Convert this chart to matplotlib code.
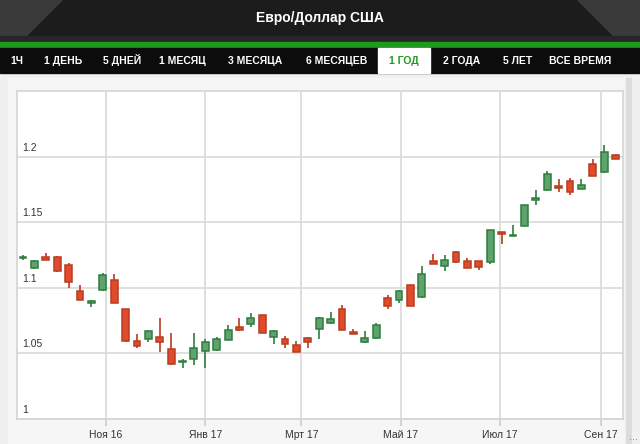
import numpy as np
import pandas as pd
import matplotlib
matplotlib.use("Agg")
import matplotlib.pyplot as plt
import matplotlib.dates as mdates
from matplotlib.patches import Rectangle, Polygon

# weekly EUR/USD candles, one year
dates = pd.date_range("2016-09-11", periods=53, freq="7D")
opens = [1.1225, 1.1150, 1.1231, 1.1234, 1.1176, 1.0972, 1.0885, 1.0985, 1.1061, 1.0837,
         1.0595, 1.0608, 1.0628, 1.0532, 1.0431, 1.0456, 1.0519, 1.0527, 1.0603, 1.0705,
         1.0725, 1.0789, 1.0628, 1.0608, 1.0565, 1.0615, 1.0687, 1.0731, 1.0840, 1.0664,
         1.0585, 1.0616, 1.0921, 1.0908, 1.1018, 1.0929, 1.1201, 1.1168, 1.1275, 1.1206,
         1.1206, 1.1193, 1.1422, 1.1395, 1.1473, 1.1666, 1.1748, 1.1773, 1.1817, 1.1756,
         1.1947, 1.1880, 1.2015]
highs = [1.1247, 1.1214, 1.1265, 1.1244, 1.1191, 1.1023, 1.0908, 1.1112, 1.1105, 1.0840,
         1.0649, 1.0679, 1.0773, 1.0654, 1.0458, 1.0659, 1.0611, 1.0628, 1.0718, 1.0773,
         1.0807, 1.0794, 1.0682, 1.0634, 1.0595, 1.0628, 1.0779, 1.0819, 1.0870, 1.0687,
         1.0672, 1.0731, 1.0947, 1.0985, 1.1025, 1.1168, 1.1257, 1.1250, 1.1280, 1.1229,
         1.1206, 1.1443, 1.1422, 1.1481, 1.1634, 1.1748, 1.1888, 1.1832, 1.1837, 1.1827,
         1.1985, 1.2092, 1.2023]
lows = [1.1214, 1.1145, 1.1212, 1.1122, 1.1002, 1.0906, 1.0857, 1.0972, 1.0882, 1.0588,
        1.0540, 1.0590, 1.0509, 1.0412, 1.0387, 1.0412, 1.0392, 1.0519, 1.0600, 1.0672,
        1.0705, 1.0656, 1.0570, 1.0540, 1.0507, 1.0540, 1.0611, 1.0723, 1.0675, 1.0645,
        1.0578, 1.0611, 1.0840, 1.0883, 1.0863, 1.0924, 1.1182, 1.1130, 1.1189, 1.1150,
        1.1132, 1.1183, 1.1336, 1.1395, 1.1473, 1.1634, 1.1740, 1.1731, 1.1705, 1.1756,
        1.1855, 1.1878, 1.1979]
closes = [1.1233, 1.1201, 1.1214, 1.1130, 1.1048, 1.0908, 1.0901, 1.1094, 1.0883, 1.0595,
          1.0557, 1.0672, 1.0585, 1.0418, 1.0439, 1.0540, 1.0585, 1.0611, 1.0679, 1.0679,
          1.0773, 1.0659, 1.0672, 1.0570, 1.0509, 1.0585, 1.0773, 1.0763, 1.0677, 1.0647,
          1.0621, 1.0718, 1.0863, 1.0977, 1.0865, 1.1107, 1.1183, 1.1214, 1.1196, 1.1150,
          1.1155, 1.1437, 1.1412, 1.1402, 1.1628, 1.1685, 1.1868, 1.1763, 1.1731, 1.1786,
          1.1855, 1.2033, 1.1979]

y_ticks = [1.0, 1.05, 1.1, 1.15, 1.2]
y_labels = ["1", "1.05", "1.1", "1.15", "1.2"]
x_ticks = pd.to_datetime(["2016-11-01", "2017-01-01", "2017-03-01", "2017-05-01",
                          "2017-07-01", "2017-09-01"])
x_labels = ["Ноя 16", "Янв 17", "Мрт 17", "Май 17", "Июл 17", "Сен 17"]
tabs = ["1Ч", "1 ДЕНЬ", "5 ДНЕЙ", "1 МЕСЯЦ", "3 МЕСЯЦА", "6 МЕСЯЦЕВ", "1 ГОД",
        "2 ГОДА", "5 ЛЕТ", "ВСЕ ВРЕМЯ"]
tab_x = [17, 63, 122, 182, 255, 337, 404, 462, 518, 580]
title = "Евро/Доллар США"

W, H = 640, 444
fig = plt.figure(figsize=(6.4, 4.44), dpi=100)

# background / header drawn in pixel coordinates
bg = fig.add_axes([0, 0, 1, 1])
bg.set_xlim(0, W)
bg.set_ylim(H, 0)
bg.axis("off")
bg.add_patch(Rectangle((0, 0), W, H, color="#f0f0f0"))
bg.add_patch(Rectangle((0, 0), W, 44, color="#1c1c1c"))
bg.add_patch(Polygon([(0, 0), (62, 0), (18, 44), (0, 44)], color="#3a3a3a"))
bg.add_patch(Polygon([(W, 0), (W - 62, 0), (W - 18, 44), (W, 44)], color="#3a3a3a"))
bg.add_patch(Rectangle((0, 36), W, 8, color="#262626"))
bg.add_patch(Rectangle((0, 42), W, 6, color="#1f9a1f"))
bg.add_patch(Rectangle((0, 48), W, 25, color="#0c0c0c"))
bg.add_patch(Rectangle((378, 48), 52, 25, color="white"))
bg.add_patch(Rectangle((8, 78), 624, H - 78, color="#f6f6f6"))
bg.add_patch(Rectangle((626, 78), 5, H - 78, color="#dcdcdc"))
bg.text(W / 2, 18, title, color="white", fontsize=10, fontweight="bold",
        ha="center", va="center", family=["Liberation Sans", "DejaVu Sans"])
for lbl, x in zip(tabs, tab_x):
    col = "#1f9a1f" if lbl == "1 ГОД" else "white"
    bg.text(x, 64, lbl, color=col, fontsize=7.5, fontweight="bold", ha="center",
            va="baseline", family=["Liberation Sans Narrow", "Liberation Sans", "DejaVu Sans"])
bg.text(634, 437, "...", color="#888888", fontsize=7, ha="center", va="center")

# main chart
ax = fig.add_axes([17 / W, (H - 419) / H, (623 - 17) / W, (419 - 91) / H])
ax.set_facecolor("white")
for s in ax.spines.values():
    s.set_color("#d4d4d4")
    s.set_linewidth(1.2)

o = np.array(opens)
c = np.array(closes)
up = c >= o
edge = np.where(up, "#2f7d3d", "#b83c20")
fill = np.where(up, "#5ea36e", "#e04b2b")
ax.vlines(dates, lows, highs, colors=edge, linewidth=1.2, zorder=3)
body_lo = np.minimum(o, c)
body_h = np.maximum(np.abs(c - o), 0.0008)
ax.bar(dates, body_h, bottom=body_lo, width=4.2, color=fill, edgecolor=edge,
       linewidth=1.1, zorder=4)

ax.set_xlim(pd.Timestamp("2016-09-07 08:00"), pd.Timestamp("2017-09-14 14:00"))
ax.set_ylim(1.0, 1.25)
ax.set_yticks(y_ticks)
ax.set_yticklabels([])
ax.tick_params(axis="y", length=0)
ax.set_xticks(x_ticks)
ax.set_xticklabels(x_labels, fontsize=7.5, color="#333333",
                   family=["Liberation Sans", "DejaVu Sans"])
ax.tick_params(axis="x", length=5, color="#cccccc", width=1.2, pad=3)
ax.grid(True, color="#d9d9d9", linewidth=1.2)
ax.set_axisbelow(True)

for v, lbl in zip(y_ticks, y_labels):
    ax.text(0.008, v + 0.003, lbl, transform=ax.get_yaxis_transform(),
            fontsize=7.5, color="#333333", ha="left", va="bottom",
            family=["Liberation Sans", "DejaVu Sans"])

fig.savefig("out.png", dpi=100)
